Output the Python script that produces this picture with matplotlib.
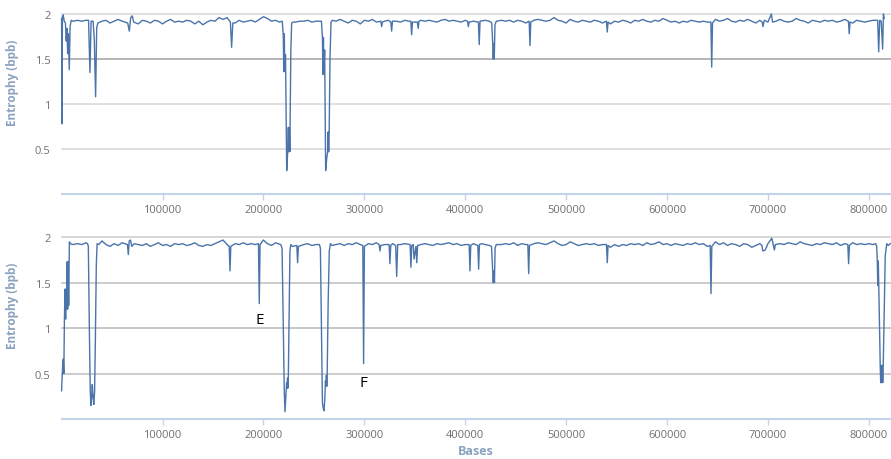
import numpy as np
import matplotlib
matplotlib.use("Agg")
import matplotlib.pyplot as plt

plt.rcParams['font.family'] = ['Open Sans', 'DejaVu Sans']

STEP = 4000  # spacing of the baseline samples (bases)

# baseline entropy, one value every 4000 bases
top_base = [
    1.93, 1.95, 1.93, 1.92, 1.93, 1.92, 1.93, 1.94, 1.92, 1.91,
    1.92, 1.93, 1.90, 1.92, 1.94, 1.92, 1.90, 1.93, 1.92, 1.89,
    1.93, 1.92, 1.90, 1.93, 1.92, 1.89, 1.92, 1.94, 1.91, 1.92,
    1.91, 1.93, 1.92, 1.89, 1.92, 1.88, 1.91, 1.93, 1.92, 1.96,
    1.94, 1.96, 1.92, 1.90, 1.93, 1.91, 1.92, 1.93, 1.91, 1.94,
    1.97, 1.95, 1.92, 1.93, 1.91, 1.93, 1.92, 1.90, 1.91, 1.92,
    1.92, 1.93, 1.91, 1.92, 1.93, 1.92, 1.91, 1.93, 1.92, 1.94,
    1.92, 1.90, 1.93, 1.92, 1.89, 1.93, 1.92, 1.94, 1.91, 1.90,
    1.92, 1.93, 1.90, 1.92, 1.91, 1.93, 1.92, 1.90, 1.91, 1.93,
    1.92, 1.93, 1.92, 1.91, 1.93, 1.94, 1.92, 1.93, 1.92, 1.91,
    1.93, 1.91, 1.92, 1.89, 1.91, 1.93, 1.92, 1.91, 1.92, 1.93,
    1.92, 1.93, 1.91, 1.93, 1.92, 1.90, 1.92, 1.93, 1.94, 1.93,
    1.92, 1.93, 1.96, 1.93, 1.92, 1.90, 1.94, 1.92, 1.91, 1.93,
    1.92, 1.91, 1.93, 1.92, 1.90, 1.92, 1.89, 1.92, 1.91, 1.93,
    1.92, 1.90, 1.93, 1.92, 1.94, 1.92, 1.91, 1.93, 1.92, 1.95,
    1.93, 1.91, 1.92, 1.90, 1.92, 1.91, 1.93, 1.92, 1.91, 1.92,
    1.91, 1.92, 1.94, 1.92, 1.93, 1.95, 1.92, 1.91, 1.93, 1.92,
    1.94, 1.92, 1.90, 1.93, 1.92, 1.91, 1.93, 1.92, 1.94, 1.92,
    1.91, 1.92, 1.95, 1.93, 1.92, 1.90, 1.93, 1.92, 1.91, 1.93,
    1.92, 1.93, 1.91, 1.92, 1.94, 1.92, 1.90, 1.93, 1.92, 1.91,
    1.92, 1.93, 1.92, 1.92, 1.93,
]

bot_base = [
    1.93, 1.93, 1.94, 1.93, 1.93, 1.92, 1.94, 1.93, 1.93, 1.92,
    1.96, 1.92, 1.90, 1.93, 1.91, 1.94, 1.92, 1.89, 1.93, 1.92,
    1.91, 1.93, 1.90, 1.92, 1.94, 1.91, 1.92, 1.90, 1.93, 1.92,
    1.93, 1.91, 1.92, 1.94, 1.91, 1.90, 1.92, 1.91, 1.93, 1.95,
    1.97, 1.92, 1.91, 1.93, 1.92, 1.94, 1.92, 1.93, 1.92, 1.94,
    1.97, 1.93, 1.91, 1.94, 1.92, 1.93, 1.92, 1.91, 1.93, 1.90,
    1.92, 1.93, 1.91, 1.92, 1.93, 1.92, 1.91, 1.94, 1.92, 1.93,
    1.91, 1.93, 1.92, 1.94, 1.92, 1.91, 1.93, 1.92, 1.94, 1.90,
    1.92, 1.91, 1.93, 1.90, 1.92, 1.93, 1.91, 1.92, 1.89, 1.92,
    1.93, 1.92, 1.91, 1.93, 1.92, 1.93, 1.94, 1.92, 1.93, 1.91,
    1.92, 1.91, 1.93, 1.92, 1.93, 1.92, 1.91, 1.92, 1.93, 1.92,
    1.93, 1.92, 1.94, 1.91, 1.93, 1.92, 1.91, 1.93, 1.94, 1.93,
    1.92, 1.94, 1.96, 1.93, 1.91, 1.92, 1.95, 1.93, 1.91, 1.92,
    1.93, 1.92, 1.93, 1.91, 1.92, 1.91, 1.89, 1.92, 1.90, 1.92,
    1.91, 1.93, 1.92, 1.93, 1.91, 1.94, 1.92, 1.93, 1.95, 1.92,
    1.93, 1.91, 1.93, 1.92, 1.91, 1.93, 1.92, 1.94, 1.92, 1.93,
    1.90, 1.93, 1.95, 1.92, 1.94, 1.91, 1.93, 1.92, 1.90, 1.93,
    1.92, 1.89, 1.91, 1.93, 1.90, 1.93, 1.92, 1.94, 1.93, 1.92,
    1.94, 1.93, 1.92, 1.95, 1.93, 1.92, 1.91, 1.93, 1.92, 1.94,
    1.93, 1.92, 1.94, 1.91, 1.93, 1.92, 1.94, 1.92, 1.93, 1.92,
    1.93, 1.92, 1.93, 1.92, 1.93, 1.92,
]

# dips / spikes (x in bases, y in bpb)
top_dip_x = [
    0, 400, 800, 1600, 2600, 3800, 4600, 5300, 6000, 6700, 7600, 8400, 9500, 11000,
    26700, 28100, 29200,
    31200, 32400, 33700, 34800, 36000,
    65500, 67100, 68500, 70000, 71500,
    167300, 168500, 169700,
    218700, 219700, 220200, 220700, 221200, 221900, 223100, 224100, 224700, 225200,
    225700, 226200, 227200, 228000, 229200,
    257500, 258500, 259000, 259500, 260000, 260700, 261700, 262800, 263700, 264200,
    264700, 265200, 266000, 267000, 268500,
    316400, 317200, 318000,
    326300, 327100, 327900,
    346100, 346900, 347700,
    352600, 353400, 354200,
    402300, 403100, 403900,
    413100, 413900, 414700,
    426300, 427300, 427800, 428300, 428800, 429500, 430800,
    463400, 464200, 465000,
    540000, 540800, 541600,
    643500, 644300, 645100,
    694300, 695100, 696400, 703400, 704600,
    779800, 780600, 781400,
    808800, 809800, 810800, 812300, 813700, 814500, 815300,
]
top_dip_y = [
    1.95, 0.78, 1.97, 1.99, 1.92, 1.90, 1.70, 1.84, 1.56, 1.78, 1.38, 1.86, 1.93, 1.92,
    1.93, 1.35, 1.92,
    1.92, 1.72, 1.08, 1.85, 1.90,
    1.90, 1.81, 1.96, 1.98, 1.91,
    1.91, 1.63, 1.90,
    1.92, 1.76, 1.36, 1.78, 1.36, 1.55, 0.26, 0.47, 0.74, 0.47,
    0.74, 0.47, 1.60, 1.90, 1.91,
    1.92, 1.74, 1.33, 1.74, 1.33, 1.60, 0.26, 0.40, 0.47, 0.69,
    0.47, 0.69, 1.50, 1.91, 1.93,
    1.92, 1.86, 1.91,
    1.91, 1.81, 1.92,
    1.92, 1.77, 1.91,
    1.91, 1.84, 1.92,
    1.92, 1.86, 1.91,
    1.91, 1.66, 1.92,
    1.90, 1.67, 1.50, 1.67, 1.50, 1.88, 1.92,
    1.92, 1.65, 1.91,
    1.92, 1.80, 1.91,
    1.91, 1.41, 1.90,
    1.91, 1.86, 1.93, 2.00, 1.91,
    1.92, 1.78, 1.91,
    1.93, 1.58, 1.93, 1.92, 1.61, 2.00, 1.95,
]

bot_dip_x = [
    0, 300, 1200, 1700, 2200, 2800, 3400, 4000, 4500, 5000, 5500, 6000, 6500, 7000,
    7700, 9000, 10500,
    25700, 26500, 27500, 28400, 29100, 29800, 30400, 31100, 31900, 32700, 33500,
    34400, 35200, 36700,
    65300, 66100, 67000, 68300, 69500,
    166100, 166900, 167700,
    195100, 195900, 196700,
    217200, 218500, 219400, 220100, 220700, 221400, 222200, 223000, 223500, 223900,
    224300, 224700, 225500, 226300, 227200, 228700,
    233100, 233900, 234700,
    255500, 256500, 257500, 258500, 259300, 260000, 260800, 261500, 262000, 262400,
    262800, 263200, 264200, 265300, 266500, 268000,
    298500, 299300, 300100,
    314700, 315500, 316300,
    324600, 325400, 326200,
    331100, 332100, 333100,
    345400, 346200, 347000, 348500, 349300, 351200, 352000, 352800,
    403900, 404700, 405500,
    412500, 413300, 414100,
    426100, 427200, 427800, 428400, 429000, 429600, 430800,
    462100, 462900, 463700,
    540000, 540800, 541600,
    642800, 643600, 644400,
    694100, 694900, 697400, 703900, 706400, 707400,
    779200, 780000, 780800,
    806800, 807800, 808400, 808900, 809400, 809900, 810500, 811300, 811800, 812300,
    812800, 813300, 813800, 814300, 815300, 816300, 817800, 819300, 821300,
]
bot_dip_y = [
    0.31, 0.40, 0.62, 0.66, 0.50, 1.10, 1.43, 1.10, 1.43, 1.21, 1.73, 1.21, 1.73, 1.25,
    1.95, 1.93, 1.92,
    1.93, 1.90, 1.00, 0.30, 0.15, 0.25, 0.38, 0.25, 0.16, 0.30, 0.90,
    1.70, 1.93, 1.92,
    1.92, 1.81, 1.96, 1.97, 1.90,
    1.90, 1.63, 1.90,
    1.93, 1.27, 1.92,
    1.92, 1.88, 1.20, 0.62, 0.30, 0.08, 0.25, 0.40, 0.34, 0.45,
    0.34, 0.45, 1.20, 1.85, 1.92, 1.90,
    1.91, 1.72, 1.90,
    1.92, 1.88, 1.00, 0.18, 0.12, 0.09, 0.20, 0.42, 0.36, 0.48,
    0.36, 0.48, 1.30, 1.85, 1.93, 1.91,
    1.91, 0.61, 1.90,
    1.92, 1.85, 1.91,
    1.92, 1.71, 1.91,
    1.91, 1.57, 1.92,
    1.92, 1.67, 1.91, 1.92, 1.76, 1.90, 1.72, 1.91,
    1.92, 1.63, 1.91,
    1.91, 1.65, 1.92,
    1.90, 1.63, 1.50, 1.63, 1.50, 1.88, 1.92,
    1.92, 1.60, 1.91,
    1.92, 1.72, 1.91,
    1.91, 1.38, 1.90,
    1.91, 1.85, 1.86, 1.99, 1.86, 1.92,
    1.92, 1.71, 1.91,
    1.93, 1.90, 1.74, 1.47, 1.74, 1.47, 1.10, 0.59, 0.40, 0.59,
    0.40, 0.59, 0.40, 0.59, 1.20, 1.80, 1.93, 1.91, 1.93,
]

yticks = [0.5, 1, 1.5, 2]
ytick_labels = ['0.5', '1', '1.5', '2']
xticks = [100000, 200000, 300000, 400000, 500000, 600000, 700000, 800000]
xtick_labels = [str(v) for v in xticks]


def series(base, dx, dy):
    bx = np.arange(len(base)) * STEP
    by = np.array(base)
    keep = np.ones(len(bx), dtype=bool)
    for x in dx:
        keep &= np.abs(bx - x) > 1500
    xs = np.concatenate([bx[keep], np.array(dx)])
    ys = np.concatenate([by[keep], np.array(dy)])
    order = np.argsort(xs, kind='stable')
    return xs[order], ys[order]


LINE = '#4a74aa'
AXIS = '#c3d4e8'
TICKTXT = '#6f6f6f'
LABEL = '#8ba3c0'

fig = plt.figure(figsize=(8.91, 4.60), dpi=100)
W, H = 891.0, 460.0
left = 61.6 / W
ax_top = fig.add_axes([left, 1 - 195 / H, 1 - left, 180 / H])
ax_bot = fig.add_axes([left, 1 - 420 / H, 1 - left, 181.7 / H])

panels = [
    (ax_top, top_base, top_dip_x, top_dip_y, ['#d9d9d9', '#dadada', '#a9a9a9', '#d9d9d9']),
    (ax_bot, bot_base, bot_dip_x, bot_dip_y, ['#c4c4c4', '#bdbdbd', '#c4c4c4', '#cfcfcf']),
]

for ax, base, dx, dy, gcols in panels:
    xs, ys = series(base, dx, dy)
    for yv, gc in zip(yticks, gcols):
        ax.axhline(yv, color=gc, lw=1.2, zorder=1, clip_on=False)
    ax.plot(xs, ys, color=LINE, lw=1.0, zorder=3, clip_on=False)
    ax.set_xlim(0, 822000)
    ax.set_ylim(0, 2)
    for s in ['top', 'right', 'left']:
        ax.spines[s].set_visible(False)
    ax.spines['bottom'].set_color(AXIS)
    ax.spines['bottom'].set_linewidth(1.5)
    ax.set_yticks(yticks)
    ax.set_yticklabels(ytick_labels)
    ax.set_xticks(xticks)
    ax.set_xticklabels(xtick_labels)
    ax.tick_params(axis='y', length=0, pad=8, labelsize=8, labelcolor=TICKTXT)
    ax.tick_params(axis='x', length=4, width=1, color=AXIS, pad=3,
                   labelsize=8, labelcolor=TICKTXT)
    ax.patch.set_alpha(0)

fig.text(13 / W, 1 - 83 / H, 'Entrophy (bpb)', rotation=90, ha='center', va='center',
         fontsize=8.5, fontweight='bold', color=LABEL)
fig.text(13 / W, 1 - 306 / H, 'Entrophy (bpb)', rotation=90, ha='center', va='center',
         fontsize=8.5, fontweight='bold', color=LABEL)
fig.text(476 / W, 1 - 452 / H, 'Bases', ha='center', va='center',
         fontsize=9, fontweight='bold', color=LABEL)

ax_bot.text(196100, 1.09, 'E', ha='center', va='center', fontsize=11, color='black')
ax_bot.text(299200, 0.40, 'F', ha='center', va='center', fontsize=11, color='black')

fig.savefig('out.png', dpi=100)
